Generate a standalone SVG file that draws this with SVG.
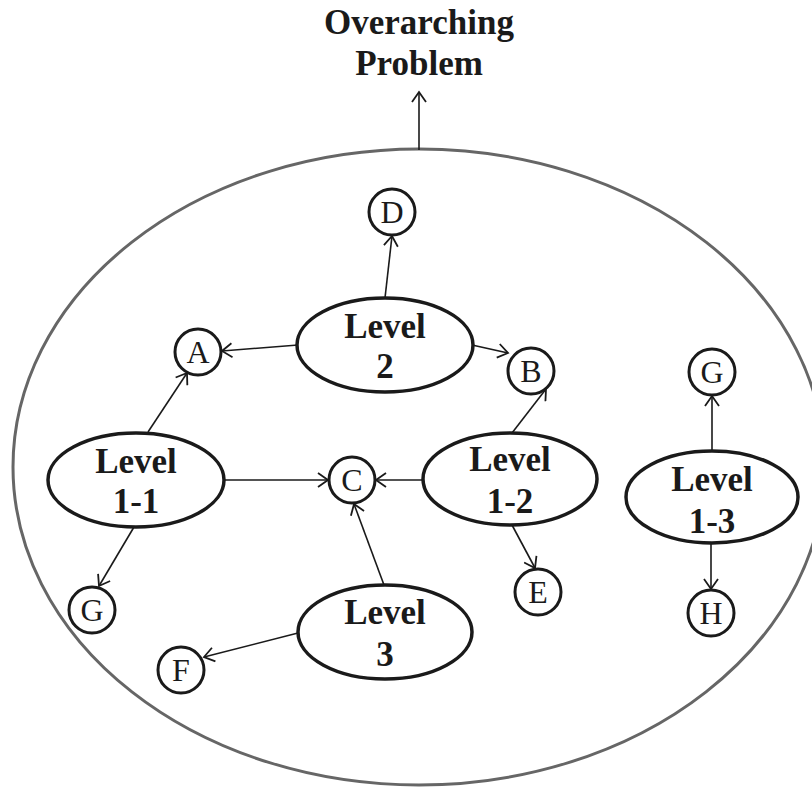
<svg xmlns="http://www.w3.org/2000/svg" width="812" height="791" viewBox="0 0 812 791">
<style>
.lvl{fill:#fff;stroke:#1a1a1a;stroke-width:3.5}
.cir{fill:#fff;stroke:#1a1a1a;stroke-width:3}
.lt{font-family:"Liberation Serif","Times New Roman",serif;font-weight:bold;font-size:35px;fill:#1a1a1a;text-anchor:middle}
.ct{font-family:"Liberation Serif","Times New Roman",serif;font-size:32px;fill:#1a1a1a;text-anchor:middle}
.tt{font-family:"Liberation Serif","Times New Roman",serif;font-weight:bold;font-size:35px;fill:#1a1a1a;text-anchor:middle}
.edge{stroke:#1a1a1a;stroke-width:1.6;fill:none;marker-end:url(#ah)}
</style>
<defs>
<marker id="ah" markerUnits="userSpaceOnUse" markerWidth="14" markerHeight="16" refX="11" refY="8" orient="auto">
<path d="M1,1 L11,8 L1,15" fill="none" stroke="#1a1a1a" stroke-width="1.8"/>
</marker>
</defs>
<rect width="812" height="791" fill="#fff"/>
<g id="title">
<text class="tt" x="419" y="34">Overarching</text>
<text class="tt" x="419" y="75">Problem</text>
</g>
<g id="boundary">
<ellipse cx="419" cy="467" rx="406" ry="318" fill="none" stroke="#666" stroke-width="3"/>
</g>
<g id="connectors">
<line class="edge" x1="419" y1="150" x2="419" y2="92"/>
<line class="edge" x1="385" y1="298" x2="392" y2="236"/>
<line class="edge" x1="298" y1="345" x2="222" y2="351"/>
<line class="edge" x1="472" y1="345" x2="508" y2="353"/>
<line class="edge" x1="148" y1="432" x2="187" y2="373"/>
<line class="edge" x1="223" y1="480" x2="328" y2="480"/>
<line class="edge" x1="134" y1="527" x2="99" y2="586"/>
<line class="edge" x1="423" y1="480" x2="376" y2="480"/>
<line class="edge" x1="512" y1="433" x2="546" y2="389"/>
<line class="edge" x1="512" y1="525" x2="535" y2="568"/>
<line class="edge" x1="384" y1="585" x2="354" y2="504"/>
<line class="edge" x1="298" y1="633" x2="204" y2="657"/>
<line class="edge" x1="712" y1="452" x2="712" y2="396"/>
<line class="edge" x1="711" y1="543" x2="711" y2="589"/>
</g>
<g id="level2">
<ellipse class="lvl" cx="385" cy="345" rx="88" ry="47"/>
<text class="lt" x="385" y="338">Level</text>
<text class="lt" x="385" y="378">2</text>
</g>
<g id="level1-1">
<ellipse class="lvl" cx="136" cy="480" rx="88" ry="47"/>
<text class="lt" x="136" y="473">Level</text>
<text class="lt" x="136" y="513">1-1</text>
</g>
<g id="level1-2">
<ellipse class="lvl" cx="510" cy="479" rx="87" ry="46"/>
<text class="lt" x="510" y="471">Level</text>
<text class="lt" x="510" y="513">1-2</text>
</g>
<g id="level1-3">
<ellipse class="lvl" cx="712" cy="497" rx="86" ry="46"/>
<text class="lt" x="712" y="491">Level</text>
<text class="lt" x="712" y="533">1-3</text>
</g>
<g id="level3">
<ellipse class="lvl" cx="385" cy="632" rx="87" ry="47"/>
<text class="lt" x="385" y="624">Level</text>
<text class="lt" x="385" y="666">3</text>
</g>
<g id="nodeD"><circle class="cir" cx="392" cy="212" r="23"/><text class="ct" x="392" y="223">D</text></g>
<g id="nodeA"><circle class="cir" cx="198" cy="352" r="23"/><text class="ct" x="198" y="363">A</text></g>
<g id="nodeB"><circle class="cir" cx="531" cy="371" r="23"/><text class="ct" x="531" y="382">B</text></g>
<g id="nodeC"><circle class="cir" cx="352" cy="480" r="23"/><text class="ct" x="352" y="491">C</text></g>
<g id="nodeG1"><circle class="cir" cx="92" cy="610" r="23"/><text class="ct" x="92" y="621">G</text></g>
<g id="nodeE"><circle class="cir" cx="538" cy="592" r="23"/><text class="ct" x="538" y="603">E</text></g>
<g id="nodeF"><circle class="cir" cx="181" cy="670" r="23"/><text class="ct" x="181" y="681">F</text></g>
<g id="nodeG2"><circle class="cir" cx="712" cy="372" r="23"/><text class="ct" x="712" y="383">G</text></g>
<g id="nodeH"><circle class="cir" cx="711" cy="613" r="23"/><text class="ct" x="711" y="624">H</text></g>
</svg>
